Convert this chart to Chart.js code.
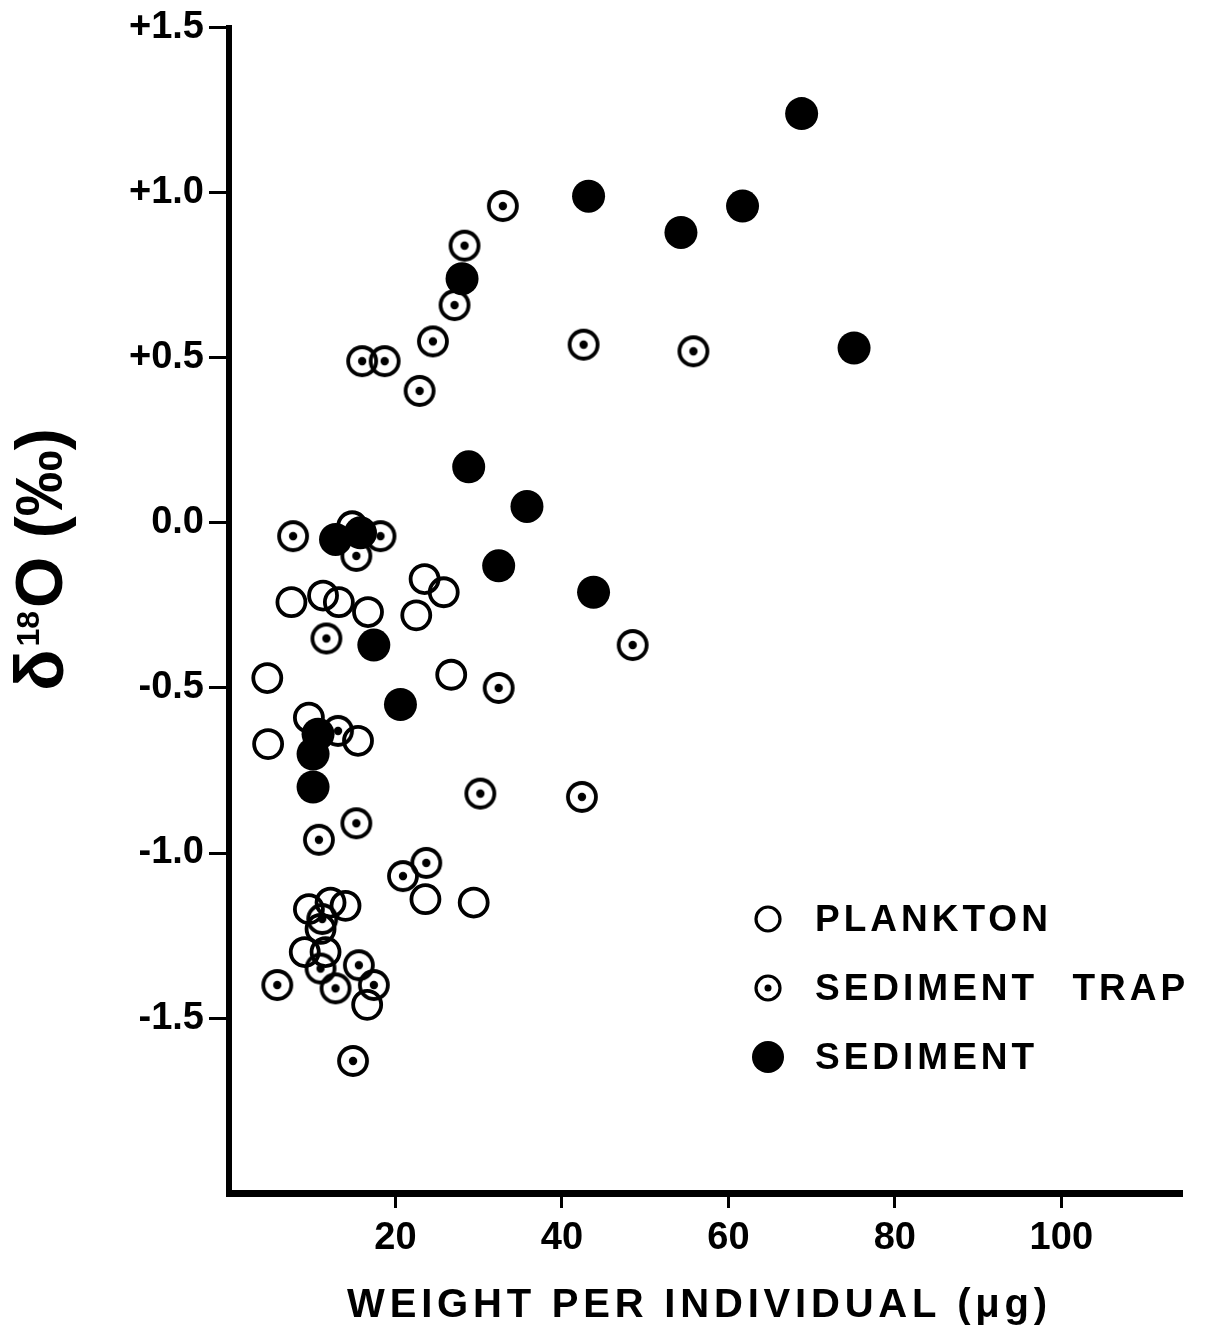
<!DOCTYPE html>
<html>
<head>
<meta charset="utf-8">
<script src="https://cdn.jsdelivr.net/npm/chart.js@4.4.1/dist/chart.umd.min.js"></script>
<style>
  html, body { margin: 0; padding: 0; background: #fff; }
  #chart { display: block; }
</style>
</head>
<body>
<canvas id="chart" width="1208" height="1344"></canvas>
<script>
// weight per individual (ug) vs delta 18O (per mil)
const planktonWeight = [14.8, 7.5, 11.3, 13.2, 16.7, 23.5, 25.8, 22.5, 4.6, 26.7, 9.6, 15.5, 4.7, 23.6, 29.4, 9.6, 12.2, 14.0, 11.0, 9.1, 11.6, 16.6];
const planktonD18O = [-0.01, -0.24, -0.22, -0.24, -0.27, -0.17, -0.21, -0.28, -0.47, -0.46, -0.59, -0.66, -0.67, -1.14, -1.15, -1.17, -1.15, -1.16, -1.23, -1.30, -1.30, -1.46];

const trapWeight = [32.9, 28.3, 27.1, 24.5, 16.0, 18.7, 22.9, 42.6, 55.8, 7.7, 18.2, 15.3, 11.7, 48.5, 32.4, 13.1, 30.2, 42.4, 15.3, 10.8, 23.7, 20.9, 11.2, 11.0, 15.6, 12.8, 17.4, 5.8, 14.9];
const trapD18O = [0.96, 0.84, 0.66, 0.55, 0.49, 0.49, 0.40, 0.54, 0.52, -0.04, -0.04, -0.10, -0.35, -0.37, -0.50, -0.63, -0.82, -0.83, -0.91, -0.96, -1.03, -1.07, -1.20, -1.35, -1.34, -1.41, -1.40, -1.40, -1.63];

const sedimentWeight = [68.8, 43.2, 61.7, 54.3, 28.0, 75.1, 28.8, 35.8, 32.4, 43.8, 12.8, 15.8, 17.4, 20.6, 10.7, 10.1, 10.1];
const sedimentD18O = [1.24, 0.99, 0.96, 0.88, 0.74, 0.53, 0.17, 0.05, -0.13, -0.21, -0.05, -0.03, -0.37, -0.55, -0.64, -0.70, -0.80];

const seriesLabels = ['PLANKTON', 'SEDIMENT TRAP', 'SEDIMENT'];
const xTicks = [20, 40, 60, 80, 100];
const yTicks = [-1.5, -1.0, -0.5, 0.0, 0.5, 1.0, 1.5];
const xTitle = 'WEIGHT PER INDIVIDUAL (\u03bcg)';

const FONT = '"Liberation Sans", Arial, sans-serif';

function toPoints(xs, ys) {
  return xs.map(function (x, i) {
    return { x: x, y: ys[i] };
  });
}

// ring with a dot in the middle, used as the sediment-trap point style
function makeTrapMark(r, lw, dot) {
  const c = document.createElement('canvas');
  const s = Math.ceil((r + lw) * 2) + 2;
  c.width = s;
  c.height = s;
  const g = c.getContext('2d');
  g.strokeStyle = '#000';
  g.fillStyle = '#000';
  g.lineWidth = lw;
  g.beginPath();
  g.arc(s / 2, s / 2, r, 0, Math.PI * 2);
  g.stroke();
  g.beginPath();
  g.arc(s / 2, s / 2, dot, 0, Math.PI * 2);
  g.fill();
  return c;
}

function drawMarker(ctx, kind, x, y) {
  ctx.strokeStyle = '#000';
  ctx.fillStyle = '#000';
  ctx.lineWidth = 3.2;
  ctx.beginPath();
  if (kind === 2) {
    ctx.arc(x, y, 16, 0, Math.PI * 2);
    ctx.fill();
    return;
  }
  ctx.arc(x, y, 12, 0, Math.PI * 2);
  ctx.stroke();
  if (kind === 1) {
    ctx.beginPath();
    ctx.arc(x, y, 3.5, 0, Math.PI * 2);
    ctx.fill();
  }
}

const whiteBg = {
  id: 'whiteBg',
  beforeDraw: function (chart) {
    const ctx = chart.ctx;
    ctx.save();
    ctx.fillStyle = '#fff';
    ctx.fillRect(0, 0, chart.width, chart.height);
    ctx.restore();
  },
};

const annotations = {
  id: 'annotations',
  afterDraw: function (chart) {
    const ctx = chart.ctx;
    const area = chart.chartArea;

    // legend, lower right inside the plot
    ctx.save();
    ctx.font = 'bold 37px ' + FONT;
    ctx.letterSpacing = '4px';
    ctx.wordSpacing = '20px';
    ctx.textBaseline = 'middle';
    ctx.textAlign = 'left';
    chart.data.datasets.forEach(function (ds, i) {
      const y = 919 + i * 69;
      drawMarker(ctx, i, 768, y);
      ctx.fillStyle = '#000';
      ctx.fillText(ds.label, 815, y + 2);
    });
    ctx.restore();

    // x axis title
    ctx.save();
    ctx.font = 'bold 40px ' + FONT;
    ctx.letterSpacing = '4.8px';
    ctx.fillStyle = '#000';
    ctx.textAlign = 'center';
    ctx.textBaseline = 'middle';
    ctx.fillText(xTitle, (area.left + area.right) / 2 - 6, 1306);
    ctx.restore();

    // y axis title: delta 18O (per mil), rotated
    const parts = [
      { t: '\u03b4', size: 68, dy: 0 },
      { t: '18', size: 32, dy: -14 },
      { t: 'O (\u2030)', size: 66, dy: 0 },
    ];
    ctx.save();
    ctx.translate(44, 558);
    ctx.rotate(-Math.PI / 2);
    ctx.fillStyle = '#000';
    ctx.textBaseline = 'middle';
    ctx.textAlign = 'left';
    let total = 0;
    parts.forEach(function (p) {
      ctx.font = 'bold ' + p.size + 'px ' + FONT;
      p.w = ctx.measureText(p.t).width;
      total += p.w + 3;
    });
    let cx = -total / 2;
    parts.forEach(function (p) {
      ctx.font = 'bold ' + p.size + 'px ' + FONT;
      ctx.fillText(p.t, cx, p.dy);
      cx += p.w + 3;
    });
    ctx.restore();
  },
};

const ctx = document.getElementById('chart');
new Chart(ctx, {
  type: 'scatter',
  data: {
    datasets: [
      {
        label: seriesLabels[0],
        data: toPoints(planktonWeight, planktonD18O),
        pointStyle: 'circle',
        pointRadius: 14,
        pointBorderWidth: 3.8,
        pointBorderColor: '#000',
        pointBackgroundColor: 'rgba(0,0,0,0)',
      },
      {
        label: seriesLabels[1],
        data: toPoints(trapWeight, trapD18O),
        pointStyle: makeTrapMark(14, 3.8, 4.2),
        pointRadius: 14,
      },
      {
        label: seriesLabels[2],
        data: toPoints(sedimentWeight, sedimentD18O),
        pointStyle: 'circle',
        pointRadius: 16.5,
        pointBorderWidth: 0,
        pointBackgroundColor: '#000',
      },
    ],
  },
  options: {
    responsive: false,
    animation: false,
    devicePixelRatio: 1,
    events: [],
    clip: false,
    layout: { padding: { left: 0, top: 25, right: 26, bottom: 0 } },
    plugins: {
      legend: { display: false },
      tooltip: { enabled: false },
    },
    scales: {
      x: {
        type: 'linear',
        min: 0,
        max: 114.5,
        afterBuildTicks: function (axis) {
          axis.ticks = xTicks.map(function (v) {
            return { value: v };
          });
        },
        afterFit: function (scale) {
          scale.height = 151;
        },
        border: { display: true, color: '#000', width: 7 },
        grid: {
          drawOnChartArea: false,
          drawTicks: true,
          tickLength: 15,
          tickWidth: 3,
          tickColor: '#000',
        },
        ticks: {
          color: '#000',
          padding: 8,
          maxRotation: 0,
          font: { family: FONT, size: 38, weight: 'bold' },
        },
      },
      y: {
        type: 'linear',
        min: -2.03,
        max: 1.5,
        afterBuildTicks: function (axis) {
          axis.ticks = yTicks.map(function (v) {
            return { value: v };
          });
        },
        afterFit: function (scale) {
          scale.width = 229;
        },
        border: { display: true, color: '#000', width: 6 },
        grid: {
          drawOnChartArea: false,
          drawTicks: true,
          tickLength: 20,
          tickWidth: 3,
          tickColor: '#000',
        },
        ticks: {
          color: '#000',
          padding: 5,
          font: { family: FONT, size: 38, weight: 'bold' },
          callback: function (v) {
            const s = Number(v).toFixed(1);
            return v > 0 ? '+' + s : s;
          },
        },
      },
    },
  },
  plugins: [whiteBg, annotations],
});
</script>
</body>
</html>
